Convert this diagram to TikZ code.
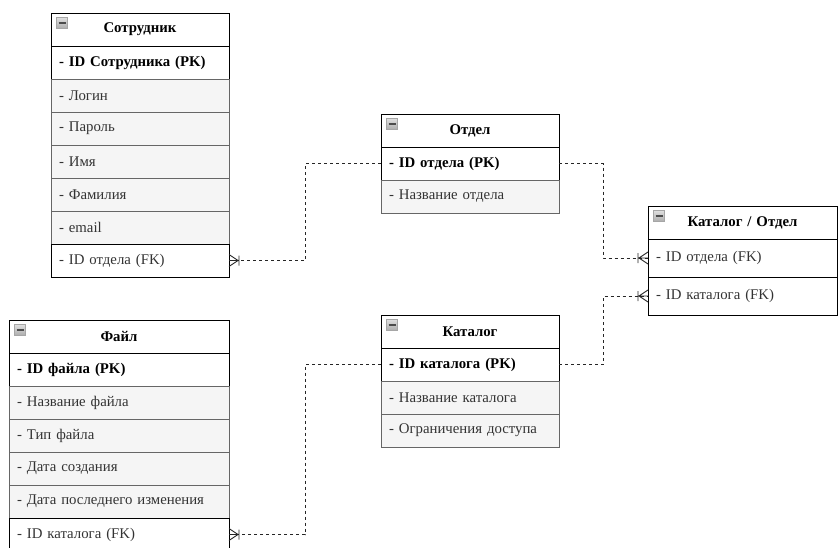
\documentclass[tikz,border=0pt]{standalone}
\usepackage{fontspec}
\setmainfont{Liberation Serif}
\usetikzlibrary{positioning}
\definecolor{rowgray}{HTML}{F5F5F5}
\definecolor{linegray}{HTML}{666666}
\definecolor{textgray}{HTML}{333333}
\tikzstyle{tblhead}=[rectangle,draw=black,fill=white,line width=0.9pt,
  minimum height=33pt,inner xsep=8pt,inner ysep=0pt,outer sep=0pt,
  font=\fontsize{14.8}{16}\selectfont\bfseries,align=center]
\tikzstyle{pkrow}=[rectangle,draw=black,fill=white,line width=0.9pt,
  minimum height=33pt,inner xsep=8pt,inner ysep=0pt,outer sep=0pt,
  font=\fontsize{14.8}{16}\selectfont\bfseries,align=left]
\tikzstyle{attrrow}=[rectangle,draw=linegray,fill=rowgray,line width=0.9pt,
  minimum height=33pt,inner xsep=8pt,inner ysep=0pt,outer sep=0pt,
  text=textgray,font=\fontsize{14.8}{16}\selectfont,align=left]
\tikzstyle{fkrow}=[rectangle,draw=black,fill=white,line width=0.9pt,
  minimum height=33pt,inner xsep=8pt,inner ysep=0pt,outer sep=0pt,
  text=textgray,font=\fontsize{14.8}{16}\selectfont,align=left]
\tikzstyle{minusicon}=[rectangle,draw=gray!70,top color=gray!25,bottom color=gray!65,
  minimum width=11pt,minimum height=11pt,inner sep=0pt,
  path picture={\draw[black!70,line width=1.3pt]
    ([xshift=2pt]path picture bounding box.west) -- ([xshift=-2pt]path picture bounding box.east);}]
\tikzstyle{erlink}=[draw=black!85,line width=0.9pt,dash pattern=on 3pt off 3pt]
\tikzset{
  tblw/.style={every node/.append style={text width=#1}},
  crowfoot/.pic={\draw[black!85,line width=0.9pt] (0,-6) -- (9,0) -- (0,6) (0,0) -- (9,0) (10,-5) -- (10,5);}
}

\begin{document}
\begin{tikzpicture}[x=1pt,y=-1pt]
  \useasboundingbox (0,0) rectangle (838,547);
  % Сотрудник
  \begin{scope}[tblw=162pt]
    \node[tblhead,anchor=north west] (sotr) at (51,13) {Сотрудник};
    \node[pkrow,below=0pt of sotr] (sotr-pk) {- ID Сотрудника (PK)};
    \node[attrrow,below=0pt of sotr-pk] (sotr-login) {- Логин};
    \node[attrrow,below=0pt of sotr-login] (sotr-pass) {- Пароль};
    \node[attrrow,below=0pt of sotr-pass] (sotr-name) {- Имя};
    \node[attrrow,below=0pt of sotr-name] (sotr-fam) {- Фамилия};
    \node[attrrow,below=0pt of sotr-fam] (sotr-mail) {- email};
    \node[fkrow,below=0pt of sotr-mail] (sotr-fk) {- ID отдела (FK)};
  \end{scope}
  % Файл
  \begin{scope}[tblw=204pt]
    \node[tblhead,anchor=north west] (fail) at (9,320) {Файл};
    \node[pkrow,below=0pt of fail] (fail-pk) {- ID файла (PK)};
    \node[attrrow,below=0pt of fail-pk] (fail-name) {- Название файла};
    \node[attrrow,below=0pt of fail-name] (fail-type) {- Тип файла};
    \node[attrrow,below=0pt of fail-type] (fail-date) {- Дата создания};
    \node[attrrow,below=0pt of fail-date] (fail-mod) {- Дата последнего изменения};
    \node[fkrow,below=0pt of fail-mod] (fail-fk) {- ID каталога (FK)};
  \end{scope}
  % Отдел
  \begin{scope}[tblw=162pt]
    \node[tblhead,anchor=north west] (otdel) at (381,114) {Отдел};
    \node[pkrow,below=0pt of otdel] (otdel-pk) {- ID отдела (PK)};
    \node[attrrow,below=0pt of otdel-pk] (otdel-name) {- Название отдела};
  \end{scope}
  % Каталог
  \begin{scope}[tblw=162pt]
    \node[tblhead,anchor=north west] (katalog) at (381,315) {Каталог};
    \node[pkrow,below=0pt of katalog] (katalog-pk) {- ID каталога (PK)};
    \node[attrrow,below=0pt of katalog-pk] (katalog-name) {- Название каталога};
    \node[attrrow,below=0pt of katalog-name] (katalog-acc) {- Ограничения доступа};
  \end{scope}
  % Каталог / Отдел
  \begin{scope}[tblw=173pt]
    \node[tblhead,anchor=north west] (ko) at (648,206) {Каталог / Отдел};
    \node[fkrow,minimum height=38pt,below=0pt of ko] (ko-fk1) {- ID отдела (FK)};
    \node[fkrow,minimum height=38pt,below=0pt of ko-fk1] (ko-fk2) {- ID каталога (FK)};
  \end{scope}
  % icons
  \node[minusicon] (sotr-icon) at ([xshift=11pt,yshift=-10pt]sotr.north west) {};
  \node[minusicon] (fail-icon) at ([xshift=11pt,yshift=-10pt]fail.north west) {};
  \node[minusicon] (otdel-icon) at ([xshift=11pt,yshift=-10pt]otdel.north west) {};
  \node[minusicon] (katalog-icon) at ([xshift=11pt,yshift=-10pt]katalog.north west) {};
  \node[minusicon] (ko-icon) at ([xshift=11pt,yshift=-10pt]ko.north west) {};
  % links
  \draw[erlink] (sotr-fk.east) -- ++(76,0) |- (otdel-pk.west);
  \draw[erlink] (otdel-pk.east) -- ++(44,0) |- (ko-fk1.west);
  \draw[erlink] (katalog-pk.east) -- ++(44,0) |- (ko-fk2.west);
  \draw[erlink] (katalog-pk.west) -- ++(-76,0) |- (fail-fk.east);
  \pic at (sotr-fk.east) {crowfoot};
  \pic at (fail-fk.east) {crowfoot};
  \pic[rotate=180] at (ko-fk1.west) {crowfoot};
  \pic[rotate=180] at (ko-fk2.west) {crowfoot};
\end{tikzpicture}
\end{document}
